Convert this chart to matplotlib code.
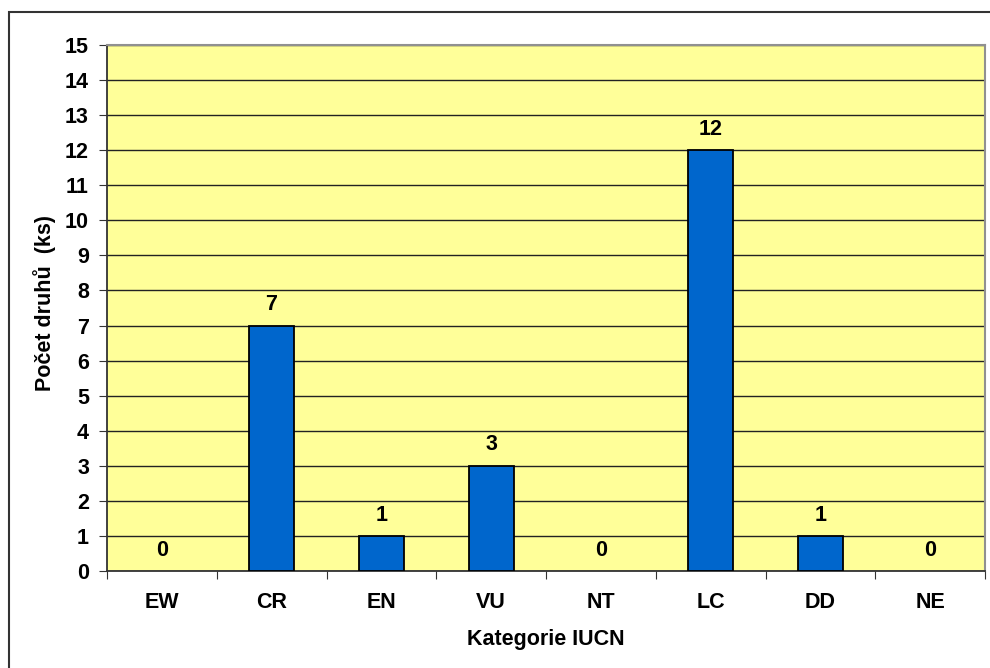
import numpy as np
import matplotlib.pyplot as plt
from matplotlib.patches import Rectangle

plt.rcParams['font.family'] = ['Liberation Sans', 'DejaVu Sans']

kategorie = ['EW', 'CR', 'EN', 'VU', 'NT', 'LC', 'DD', 'NE']
pocet = [0, 7, 1, 3, 0, 12, 1, 0]

fs = 15.5

fig = plt.figure(figsize=(9.9, 6.68), dpi=100)
ax = fig.add_axes([107/990, 1-571/668, (985-107)/990, (571-45)/668])

# outer chart frame (runs off the right and bottom edges)
fig.patches.append(Rectangle((9/990, -0.05), 1.1, 1-12/668+0.05,
                             transform=fig.transFigure, fill=False,
                             edgecolor='#333333', lw=1.5))

x = np.arange(len(kategorie))
ax.set_facecolor('#FFFF99')
lw = [1.3 if v > 0 else 0 for v in pocet]
ax.bar(x, pocet, width=0.41, color='#0066CC', edgecolor='black', linewidth=lw, zorder=3)

for xi, v in zip(x, pocet):
    ax.annotate(str(v), (xi, v), xytext=(0, 15), textcoords='offset points',
                ha='center', va='center', fontsize=fs, fontweight='bold')

ax.set_xlim(-0.5, len(kategorie)-0.5)
ax.set_ylim(0, 15)
ax.set_yticks(range(0, 16))
ax.yaxis.grid(True, color='#222222', lw=1.0, zorder=0)
ax.set_axisbelow(True)

ax.set_xticks(np.arange(-0.5, len(kategorie)), minor=False)
ax.set_xticklabels([])
ax.set_xticks(x, minor=True)
ax.set_xticklabels(kategorie, minor=True)
ax.tick_params(axis='x', which='major', length=6, color='#333333')
ax.tick_params(axis='x', which='minor', length=0, pad=15, labelsize=fs)
ax.tick_params(axis='y', length=6, color='#333333', labelsize=fs, pad=7)
for lab in ax.get_xticklabels(minor=True) + ax.get_yticklabels():
    lab.set_fontweight('bold')

for s in ['top', 'right']:
    ax.spines[s].set_color('#909090')
    ax.spines[s].set_linewidth(1.5)
for s in ['left', 'bottom']:
    ax.spines[s].set_color('#333333')
    ax.spines[s].set_linewidth(1.3)

ax.set_xlabel('Kategorie IUCN', fontsize=fs, fontweight='bold', labelpad=12)
ax.set_ylabel('Počet druhů  (ks)', fontsize=fs, fontweight='bold')
ax.yaxis.set_label_coords(-0.058, 0.51)

fig.savefig('out.png', dpi=100)
